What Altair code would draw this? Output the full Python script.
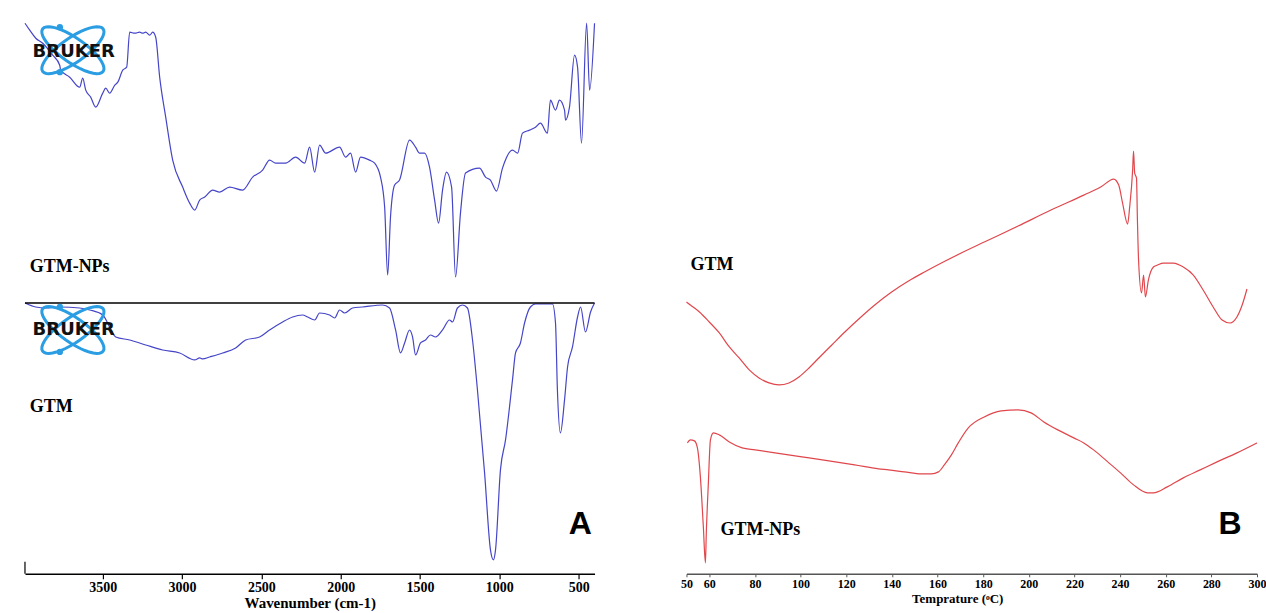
import math
import altair as alt
import pandas as pd

# ---------------- Panel A : FTIR (wavenumber, arbitrary transmittance units) ----------------
nps_wn = [3990, 3960, 3922, 3878, 3815, 3771, 3765, 3708, 3645, 3626, 3607, 3576, 3544, 3500, 3481, 3456,
          3424, 3405, 3374, 3349, 3330, 3298, 3267, 3248, 3229, 3204, 3185, 3166, 3141, 3103, 3059, 2996,
          2952, 2920, 2889, 2857, 2807, 2763, 2700, 2618, 2555, 2492, 2448, 2410, 2347, 2284, 2227, 2196,
          2164, 2133, 2095, 2007, 1969, 1938, 1906, 1875, 1818, 1786, 1749, 1723, 1704, 1686, 1660, 1629,
          1566, 1528, 1503, 1471, 1440, 1408, 1383, 1358, 1333, 1301, 1276, 1245, 1213, 1125, 1087, 1056,
          1018, 980, 917, 885, 854, 810, 772, 741, 697, 678, 646, 621, 589, 583, 558, 526, 507, 482, 450,
          431, 400]
nps_t = [551, 544, 536, 531, 519, 509, 504, 497, 487, 496, 484, 477, 467, 481, 486, 481,
         489, 492, 504, 507, 542, 541, 542, 541, 542, 539, 542, 537, 497, 457, 414, 387,
         371, 364, 374, 377, 384, 382, 387, 384, 397, 404, 414, 411, 411, 417, 411, 427,
         402, 429, 421, 427, 417, 421, 402, 417, 414, 411, 397, 367, 299, 357, 389, 394,
         434, 427, 421, 421, 407, 374, 351, 384, 402, 387, 297, 361, 401, 406, 397, 394,
         383, 406, 424, 421, 441, 444, 447, 451, 441, 474, 464, 474, 464, 454, 467, 519, 507, 431, 551,
         484, 551]

gtm_wn = [3990, 3922, 3859, 3771, 3645, 3582, 3500, 3418, 3330, 3229, 3122, 3015, 2920, 2889, 2870, 2826,
          2744, 2662, 2599, 2511, 2448, 2366, 2303, 2240, 2208, 2164, 2133, 2070, 2038, 2007, 1975, 1925,
          1862, 1736, 1692, 1654, 1623, 1597, 1566, 1547, 1528, 1497, 1465, 1434, 1402, 1358, 1314, 1295,
          1264, 1232, 1201, 1169, 1138, 1093, 1056, 1037, 1024, 993, 961, 917, 898, 867, 841, 804, 772,
          665, 646, 634, 615, 589, 570, 539, 507, 488, 457, 425, 400]
gtm_t = [271, 267, 266, 267, 266, 264, 259, 237, 234, 229, 224, 221, 214, 216, 215, 217,
         221, 226, 234, 237, 244, 252, 257, 259, 257, 254, 261, 259, 256, 264, 261, 266,
         267, 269, 266, 244, 221, 231, 244, 237, 219, 231, 234, 239, 237, 244, 254, 252,
         266, 269, 266, 234, 184, 101, 24, 14, 24, 104, 134, 194, 221, 231, 251, 267, 270,
         270, 251, 184, 141, 174, 207, 227, 257, 267, 242, 262, 271]

ir_ticks = [3500, 3000, 2500, 2000, 1500, 1000, 500]

# ---------------- Panel B : DSC (temperature, arbitrary heat-flow units) ----------------
dsc_gtm_T = [50, 51.7, 55.7, 60.0, 64.4, 68.8, 73.1, 77.5, 81.8, 86.2, 90.6, 94.9, 99.3, 103.7, 108.0,
             113.7, 119.4, 125.5, 132.5, 139.9, 147.3, 154.3, 161.7, 170.4, 180.5, 195.3, 209.7, 224.1,
             231.5, 237.2, 239.4, 241.1, 243.3, 244.2, 245.5, 245.9, 246.4, 247.2, 247.6, 248.1, 249.4,
             250.3, 251.1, 252.4, 254.6, 256.4, 259.0, 263.4, 267.7, 272.1, 276.4, 280.8, 284.7, 288.2,
             291.2, 293.5, 295.6]
dsc_gtm_hf = [272, 269, 262, 252, 241, 227, 216, 204, 196, 191, 189, 191, 197, 206, 216,
              229, 242, 255, 269, 282, 293, 302, 311, 321, 332, 348, 364, 379,
              387, 395, 389, 371, 350, 367, 404, 423, 401, 396, 354, 314, 281,
              299, 277, 294, 307, 309, 311, 311, 307, 299, 284, 267, 254, 251,
              257, 269, 285]

dsc_nps_T = [50.4, 51.7, 53.5, 54.8, 56.1, 57.4, 58.3, 58.7, 59.6, 60.5, 61.8, 64.4, 68.8, 74.4, 80.1,
             88.8, 100.6, 112.4, 123.7, 134.2, 138.6, 145.5, 153.0, 157.3, 160.4, 163.0, 166.1, 169.1,
             173.5, 180.5, 187.9, 195.3, 201.0, 206.6, 212.7, 219.7, 224.1, 228.4, 234.6, 240.2, 245.9,
             252.0, 254.6, 260.7, 267.7, 275.1, 282.5, 291.2, 300.0]
dsc_nps_hf = [131, 134, 133, 126, 97, 47, 11, 41, 91, 134, 141, 139, 132, 126, 124,
              121, 117, 113, 109, 105, 104, 102, 100, 100, 102, 109, 119, 131,
              146, 157, 163, 164, 161, 152, 144, 136, 131, 124, 112, 101, 89,
              81, 81, 87, 96, 104, 112, 121, 131]

dsc_ticks = [50, 60, 80, 100, 120, 140, 160, 180, 200, 220, 240, 260, 280, 300]

# ---------------- styling ----------------
IR_BLUE = "#4545c8"
DSC_RED = "#e0474c"
LOGO_BLUE = "#2a9de3"
SERIF = "Liberation Serif"
SANS = "Liberation Sans"

W_A, W_B, H = 570, 571, 564
Y_DOM = [0, 564]


def ellipse_path(angle_deg, ratio=0.33, n=40):
    th = math.radians(angle_deg)
    pts = []
    for i in range(n):
        t = 2 * math.pi * i / n
        x, y = math.cos(t), ratio * math.sin(t)
        pts.append(f"{x*math.cos(th) - y*math.sin(th):.3f},{x*math.sin(th) + y*math.cos(th):.3f}")
    return "M" + "L".join(pts) + "Z"


# ---------------- Panel A ----------------
xA = alt.X("wn:Q",
           scale=alt.Scale(domain=[400, 3990], reverse=True, nice=False, zero=False),
           axis=alt.Axis(values=ir_ticks, format="d", title="Wavenumber (cm-1)", grid=False,
                         labelFont=SERIF, labelFontSize=14, labelFontWeight="bold", labelColor="black",
                         titleFont=SERIF, titleFontSize=15, titleFontWeight="bold", titleColor="black",
                         domainColor="black", domainWidth=1.5, tickColor="black", tickSize=5,
                         tickWidth=1.2, labelPadding=2, titlePadding=1, labelFlush=False))
yA = alt.Y("v:Q", scale=alt.Scale(domain=Y_DOM, nice=False, zero=False), axis=None)

df_nps = pd.DataFrame({"wn": nps_wn, "v": nps_t, "o": range(len(nps_wn))})
df_gtm = pd.DataFrame({"wn": gtm_wn, "v": gtm_t, "o": range(len(gtm_wn))})

line_nps = alt.Chart(df_nps).mark_line(color=IR_BLUE, strokeWidth=1.2, interpolate="monotone").encode(
    x=xA, y=yA, order="o:Q")
line_gtm = alt.Chart(df_gtm).mark_line(color=IR_BLUE, strokeWidth=1.2, interpolate="monotone").encode(
    x=xA, y=yA, order="o:Q")

sep = alt.Chart(pd.DataFrame({"wn": [3990], "wn2": [400], "v": [271]})).mark_rule(
    color="black", strokeWidth=1.5).encode(x=xA, x2="wn2:Q", y=yA)
stub = alt.Chart(pd.DataFrame({"wn": [3990], "v": [0], "v2": [12]})).mark_rule(
    color="black", strokeWidth=1.2).encode(x=xA, y=yA, y2="v2:Q")

labA = alt.Chart(pd.DataFrame({"wn": [3960, 3960], "v": [307, 167], "t": ["GTM-NPs", "GTM"]})).mark_text(
    align="left", baseline="middle", font=SERIF, fontSize=18, fontWeight="bold", color="black"
).encode(x=xA, y=yA, text="t:N")
letterA = alt.Chart(pd.DataFrame({"wn": [489], "v": [50], "t": ["A"]})).mark_text(
    align="center", baseline="middle", font=SANS, fontSize=32, fontWeight="bold", color="black"
).encode(x=xA, y=yA, text="t:N")

# Bruker logos (decoration)
logo_c = pd.DataFrame({"wn": [3688, 3688], "v": [524, 244]})
ell1 = alt.Chart(logo_c).mark_point(shape=ellipse_path(35), size=5476, filled=False,
                                    stroke=LOGO_BLUE, strokeWidth=3, opacity=1).encode(x=xA, y=yA)
ell2 = alt.Chart(logo_c).mark_point(shape=ellipse_path(-35), size=5476, filled=False,
                                    stroke=LOGO_BLUE, strokeWidth=3, opacity=1).encode(x=xA, y=yA)
dots = alt.Chart(pd.DataFrame({"wn": [3770, 3770, 3770, 3770], "v": [547, 502, 267, 222]})).mark_circle(
    size=40, color=LOGO_BLUE, opacity=1).encode(x=xA, y=yA)
bruker = alt.Chart(pd.DataFrame({"wn": [3683, 3683], "v": [522, 244], "t": ["BRUKER", "BRUKER"]})).mark_text(
    align="center", baseline="middle", font="DejaVu Sans", fontSize=18, fontWeight="bold", color="#111111"
).encode(x=xA, y=yA, text="t:N")

panelA = alt.layer(line_nps, line_gtm, sep, stub, ell1, ell2, dots, bruker, labA, letterA).properties(
    width=W_A, height=H)

# ---------------- Panel B ----------------
xB = alt.X("T:Q",
           scale=alt.Scale(domain=[50, 300], nice=False, zero=False),
           axis=alt.Axis(values=dsc_ticks, format="d", title="Temprature (ᵒC)", grid=False,
                         labelFont=SERIF, labelFontSize=12, labelFontWeight="bold", labelColor="black",
                         titleFont=SERIF, titleFontSize=13, titleFontWeight="bold", titleColor="black",
                         domainColor="#555555", domainWidth=1.5, tickColor="#555555", tickSize=3,
                         labelPadding=2, titlePadding=3, labelFlush=False, labelOverlap=False,
                         titleX=271))
yB = alt.Y("v:Q", scale=alt.Scale(domain=Y_DOM, nice=False, zero=False), axis=None)

df_dg = pd.DataFrame({"T": dsc_gtm_T, "v": dsc_gtm_hf})
df_dn = pd.DataFrame({"T": dsc_nps_T, "v": dsc_nps_hf})
dsc_g = alt.Chart(df_dg).mark_line(color=DSC_RED, strokeWidth=1.2, interpolate="monotone").encode(x=xB, y=yB)
dsc_n = alt.Chart(df_dn).mark_line(color=DSC_RED, strokeWidth=1.2, interpolate="monotone").encode(x=xB, y=yB)

labB = alt.Chart(pd.DataFrame({"T": [51.75, 64.9], "v": [309, 44], "t": ["GTM", "GTM-NPs"]})).mark_text(
    align="left", baseline="middle", font=SERIF, fontSize=18, fontWeight="bold", color="black"
).encode(x=xB, y=yB, text="t:N")
letterB = alt.Chart(pd.DataFrame({"T": [288.2], "v": [50], "t": ["B"]})).mark_text(
    align="center", baseline="middle", font=SANS, fontSize=32, fontWeight="bold", color="black"
).encode(x=xB, y=yB, text="t:N")

panelB = alt.layer(dsc_g, dsc_n, labB, letterB).properties(width=W_B, height=H)

chart = alt.hconcat(panelA, panelB, spacing=92, bounds="flush").properties(
    padding={"left": 22, "top": 10, "right": 0, "bottom": 0},
    background="white"
).configure_view(stroke=None)

chart.save("out.html", embed_options={"renderer": "svg", "actions": False})
